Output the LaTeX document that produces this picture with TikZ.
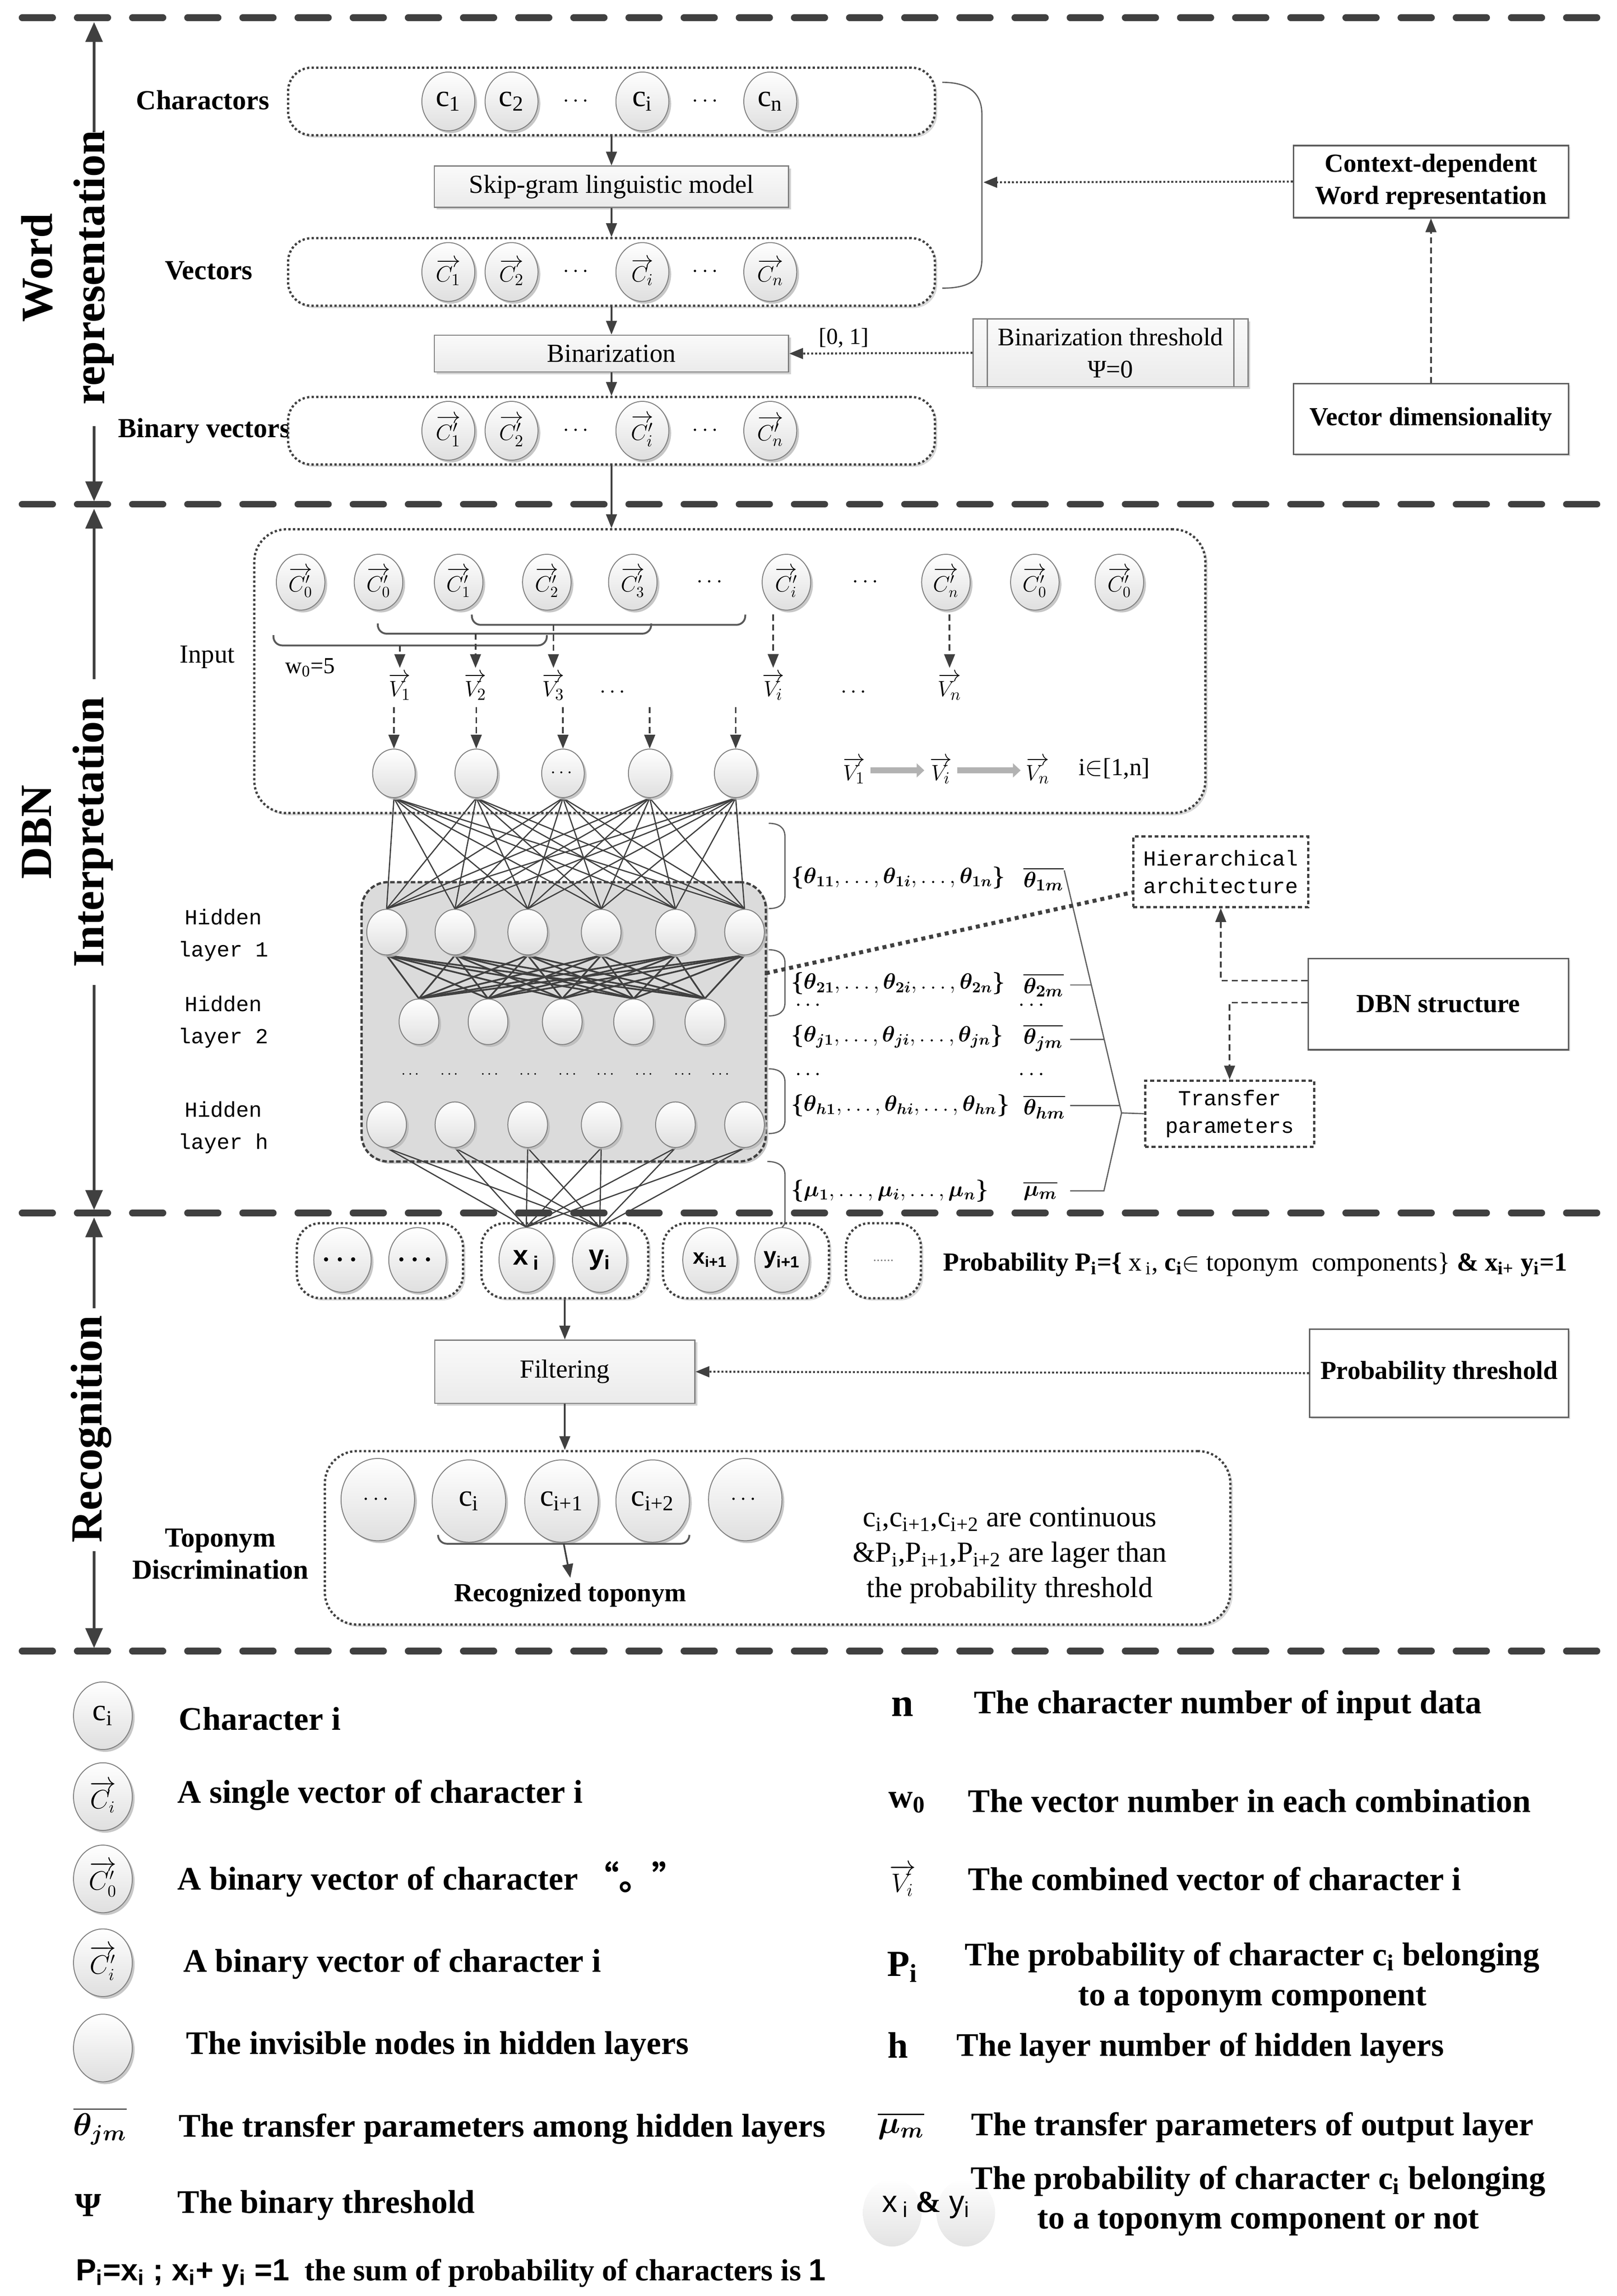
\documentclass[tikz,border=0pt]{standalone}
\usepackage{amsmath}
\usepackage{fontspec}
\usepackage{bm}
\setmainfont{Liberation Serif}
\newfontfamily\monof{Liberation Mono}
\newfontfamily\sansf{Liberation Sans}
\newfontfamily\cjkf{Noto Sans CJK SC}
\usetikzlibrary{arrows.meta,shapes.geometric,shadows,calc}
\pgfdeclarelayer{bgbox}
\pgfdeclarelayer{bglines}
\pgfsetlayers{bgbox,bglines,main}
\newdimen\dpx
\dpx=0.033727cm
\newcommand{\fsz}[2]{\fontsize{#1}{#2}\selectfont}
\newcommand{\tb}[1]{\bm{\theta_{#1}}}
\newcommand{\mb}[1]{\bm{\mu_{#1}}}
\definecolor{dk}{HTML}{404040}
\definecolor{bd}{HTML}{808080}
\tikzset{
  sepline/.style={draw=dk, line width=4.3pt, dash pattern=on 20pt off 16pt, line cap=round},
  sidearr/.style={draw=dk, line width=2pt, -{Triangle[length=13pt,width=11pt]}},
  sidetext/.style={rotate=90, align=center, font=\bfseries\fsz{29}{34}, inner sep=0pt},
  arr/.style={draw=dk, line width=1.1pt, -{Triangle[length=9pt,width=7pt]}},
  dotarr/.style={draw=dk, line width=1.3pt, dash pattern=on 1.3pt off 1.3pt, -{Triangle[length=9pt,width=7pt]}},
  dsharr/.style={draw=dk, line width=1.1pt, dash pattern=on 4pt off 2.5pt, -{Triangle[length=9pt,width=7pt]}},
  rowbox/.style={rectangle, draw=dk, line width=1.5pt, dash pattern=on 1.5pt off 1.5pt, rounded corners=16\dpx, fill=white, inner sep=0pt, drop shadow={shadow xshift=1.5pt, shadow yshift=-1.5pt, fill=gray!30, opacity=1}},
  orb/.style={ellipse, inner sep=0pt, draw=bd, line width=0.6pt, top color=white, bottom color=gray!25, drop shadow={shadow xshift=1.5pt, shadow yshift=-1.5pt, fill=gray!55, opacity=0.8}},
  orbR/.style={orb, minimum width=36\dpx, minimum height=40\dpx},
  orbT/.style={orb, minimum width=33\dpx, minimum height=38\dpx},
  orbI/.style={orb, minimum width=29\dpx, minimum height=33\dpx},
  hid/.style={orb, minimum width=27\dpx, minimum height=31\dpx},
  orbO/.style={orb, minimum width=37\dpx, minimum height=44\dpx},
  orbC/.style={orb, minimum width=50\dpx, minimum height=56\dpx},
  orbL/.style={orb, minimum width=40\dpx, minimum height=46\dpx},
  orbN/.style={ellipse, inner sep=0pt, top color=white, bottom color=gray!22, minimum width=40\dpx, minimum height=46\dpx},
  procbox/.style={rectangle, draw=bd, line width=0.8pt, top color=gray!4, bottom color=gray!16, inner sep=0pt, align=center, font=\fsz{17}{20}, drop shadow={shadow xshift=1.5pt, shadow yshift=-1.5pt, fill=gray!35, opacity=1}},
  plainbox/.style={rectangle, draw=dk!85, line width=1pt, fill=white, inner sep=0pt, align=center, font=\bfseries\fsz{17}{21}, drop shadow={shadow xshift=1pt, shadow yshift=-1pt, fill=gray!30, opacity=1}},
  dashbox/.style={rectangle, draw=dk, line width=1.5pt, dash pattern=on 2.5pt off 1.8pt, fill=white, inner sep=0pt, align=center, font=\monof\fsz{14}{18}},
  lbl/.style={font=\bfseries\fsz{18}{21}},
  brk/.style={draw=gray!70!black, line width=1.2pt, rounded corners=6\dpx},
  brc/.style={draw=gray!75!black, line width=0.8pt},
  netl/.style={draw=dk, line width=0.8pt},
  netm/.style={draw=dk, line width=1.1pt},
  thin/.style={draw=gray!75!black, line width=0.8pt},
  blk/.style={draw=gray!60, line width=4pt, -{Triangle[length=5pt,width=9pt]}},
  par/.style={anchor=west, font=\fsz{14.5}{18}, inner sep=1pt},
  parb/.style={anchor=west, font=\fsz{15}{18}, inner sep=1pt},
  lgs/.style={anchor=west, font=\bfseries\fsz{21.5}{26}},
  dotsl/.style={font=\bfseries\fsz{14}{14}}
}
\begin{document}
\begin{tikzpicture}[x=\dpx,y=-\dpx]
\path[use as bounding box] (0,0) rectangle (1100,1561.7);
% separators
\foreach \yy/\nm in {12/s0,343/s1,825/s2,1123/s3}{
  \coordinate (\nm L) at (15,\yy);
  \coordinate (\nm R) at (1092,\yy);
  \draw[sepline] (\nm L) -- (\nm R);
}
%================ WORD REPRESENTATION
\node[sidetext] (wr) at (46,182) {Word\\representation};
\coordinate (wrU) at (64,90); \coordinate (wrT) at (64,15);
\coordinate (wrD) at (64,290); \coordinate (wrB) at (64,341);
\draw[sidearr] (wrU) -- (wrT);
\draw[sidearr] (wrD) -- (wrB);

\node[lbl] (lch) at (138,68) {Charactors};
\node[lbl] (lve) at (142,184) {Vectors};
\node[lbl] (lbv) at (139,293) {Binary vectors};

\node[rowbox, minimum width=440\dpx, minimum height=46\dpx] (row1) at (416,69) {};
\node[rowbox, minimum width=440\dpx, minimum height=46\dpx] (row2) at (416,185) {};
\node[rowbox, minimum width=440\dpx, minimum height=46\dpx] (row3) at (416,293) {};

\node[orbR, font=\fsz{20}{20}] (a1) at (305,69) {c\textsubscript{1}};
\node[orbR, font=\fsz{20}{20}] (a2) at (348,69) {c\textsubscript{2}};
\node[orbR, font=\fsz{20}{20}] (ai) at (437,69) {c\textsubscript{i}};
\node[orbR, font=\fsz{20}{20}] (an) at (524,69) {c\textsubscript{n}};
\node[dotsl] (ad1) at (393,69) {$\cdots$};
\node[dotsl] (ad2) at (481,69) {$\cdots$};

\node[orbR, font=\fsz{15}{15}] (b1) at (305,185) {$\overrightarrow{C_1}$};
\node[orbR, font=\fsz{15}{15}] (b2) at (348,185) {$\overrightarrow{C_2}$};
\node[orbR, font=\fsz{15}{15}] (bi) at (437,185) {$\overrightarrow{C_i}$};
\node[orbR, font=\fsz{15}{15}] (bn) at (524,185) {$\overrightarrow{C_n}$};
\node[dotsl] (bd1) at (393,185) {$\cdots$};
\node[dotsl] (bd2) at (481,185) {$\cdots$};

\node[orbR, font=\fsz{15}{15}] (c1) at (305,293) {$\overrightarrow{C_1'}$};
\node[orbR, font=\fsz{15}{15}] (c2) at (348,293) {$\overrightarrow{C_2'}$};
\node[orbR, font=\fsz{15}{15}] (ci) at (437,293) {$\overrightarrow{C_i'}$};
\node[orbR, font=\fsz{15}{15}] (cn) at (524,293) {$\overrightarrow{C_n'}$};
\node[dotsl] (cd1) at (393,293) {$\cdots$};
\node[dotsl] (cd2) at (481,293) {$\cdots$};

\node[procbox, minimum width=241\dpx, minimum height=28\dpx] (skip) at (416,127) {Skip-gram linguistic model};
\node[procbox, minimum width=241\dpx, minimum height=25\dpx] (bin) at (416,240.5) {Binarization};
\draw[arr] (row1.south) -- (skip.north);
\draw[arr] (skip.south) -- (row2.north);
\draw[arr] (row2.south) -- (bin.north);
\draw[arr] (bin.south) -- (row3.north);

\node[procbox, minimum width=187\dpx, minimum height=46\dpx, font=\fsz{16.5}{21}] (bthr) at (755.5,240) {Binarization threshold\\Ψ=0};
\draw[bd, line width=0.8pt] ($(bthr.north west)+(10,0)$) -- ($(bthr.south west)+(10,0)$);
\draw[bd, line width=0.8pt] ($(bthr.north east)+(-10,0)$) -- ($(bthr.south east)+(-10,0)$);
\node[font=\fsz{15}{18}] (int01) at (574,230) {[0, 1]};
\draw[dotarr] (bthr.west) -- (bin.east);

\draw[brc] (641,56) .. controls (660,56) and (668,64) .. (668,78) -- (668,176) .. controls (668,190) and (660,196) .. (641,196);
\coordinate (bracetip) at (669,124);
\node[plainbox, minimum width=187\dpx, minimum height=49\dpx] (ctx) at (973.5,123.5) {Context-dependent\\Word representation};
\draw[dotarr] (ctx.west) -- (bracetip);
\node[plainbox, minimum width=187\dpx, minimum height=48\dpx] (vdim) at (973.5,285) {Vector dimensionality};
\draw[dsharr] (vdim.north) -- (ctx.south);

%================ DBN
\node[sidetext] (dbnl) at (46,566) {DBN\\Interpretation};
\coordinate (dbU) at (64,462); \coordinate (dbT) at (64,346);
\coordinate (dbD) at (64,670); \coordinate (dbB) at (64,823);
\draw[sidearr] (dbU) -- (dbT);
\draw[sidearr] (dbD) -- (dbB);

\begin{pgfonlayer}{bgbox}
\node[rowbox, rounded corners=22\dpx, minimum width=647\dpx, minimum height=193\dpx] (inbox) at (496.5,456.5) {};
\node[rectangle, draw=dk, fill=gray!28, line width=1.5pt, dash pattern=on 3pt off 1.5pt, rounded corners=18\dpx, minimum width=275\dpx, minimum height=190\dpx, drop shadow={shadow xshift=1.5pt, shadow yshift=-1.5pt, fill=gray!45, opacity=1}] (hbox) at (383.5,695) {};
\end{pgfonlayer}
\draw[arr] (row3.south) -- (row3.south |- inbox.north);
\node[font=\fsz{17}{20}] (inputl) at (141,447) {Input};

\node[orbT, font=\fsz{14}{14}] (t1) at (204.5,396) {$\overrightarrow{C_0'}$};
\node[orbT, font=\fsz{14}{14}] (t2) at (257.5,396) {$\overrightarrow{C_0'}$};
\node[orbT, font=\fsz{14}{14}] (t3) at (312,396) {$\overrightarrow{C_1'}$};
\node[orbT, font=\fsz{14}{14}] (t4) at (372,396) {$\overrightarrow{C_2'}$};
\node[orbT, font=\fsz{14}{14}] (t5) at (430.5,396) {$\overrightarrow{C_3'}$};
\node[dotsl] (td1) at (484,396) {$\cdots$};
\node[orbT, font=\fsz{14}{14}] (t6) at (535,396) {$\overrightarrow{C_i'}$};
\node[dotsl] (td2) at (590,396) {$\cdots$};
\node[orbT, font=\fsz{14}{14}] (t7) at (643.5,396) {$\overrightarrow{C_n'}$};
\node[orbT, font=\fsz{14}{14}] (t8) at (704,396) {$\overrightarrow{C_0'}$};
\node[orbT, font=\fsz{14}{14}] (t9) at (761.5,396) {$\overrightarrow{C_0'}$};

\draw[brk] (186,432) -- (186,439) -- (372,439) -- (372,432);
\draw[brk] (257,424) -- (257,431) -- (443,431) -- (443,424);
\draw[brk] (321,418) -- (321,425) -- (507,425) -- (507,418);
\node[font=\fsz{15}{15}] (w0l) at (211,454) {w\textsubscript{0}=5};

\node[font=\fsz{15}{15}] (V1) at (272,467) {$\overrightarrow{V_1}$};
\node[font=\fsz{15}{15}] (V2) at (323.5,467) {$\overrightarrow{V_2}$};
\node[font=\fsz{15}{15}] (V3) at (376.5,467) {$\overrightarrow{V_3}$};
\node[dotsl] (vd1) at (418,471) {$\cdots$};
\node[font=\fsz{15}{15}] (Vi) at (526,467) {$\overrightarrow{V_i}$};
\node[dotsl] (vd2) at (582,471) {$\cdots$};
\node[font=\fsz{15}{15}] (Vn) at (646,467) {$\overrightarrow{V_n}$};
\coordinate (v1s) at (272,439); \coordinate (v2s) at (323.5,431);
\coordinate (v3s) at (376.5,425); \coordinate (vis) at (526,418);
\coordinate (vns) at (646,418);
\draw[dsharr] (v1s) -- (V1.north);
\draw[dsharr] (v2s) -- (V2.north);
\draw[dsharr] (v3s) -- (V3.north);
\draw[dsharr] (vis) -- (Vi.north);
\draw[dsharr] (vns) -- (Vn.north);

\node[orbI] (inp1) at (268,526) {};
\node[orbI] (inp2) at (324,526) {};
\node[orbI, font=\bfseries\fsz{12}{12}] (inp3) at (383,526) {$\cdots$};
\node[orbI] (inp4) at (442,526) {};
\node[orbI] (inp5) at (500.5,526) {};
\foreach \xx/\k in {268/1,324/2,383/3,442/4,500.5/5}{
  \coordinate (q\k) at (\xx,481);
  \draw[dsharr] (q\k) -- (inp\k.north);
}

\node[font=\fsz{15}{15}] (fv1) at (581,524) {$\overrightarrow{V_1}$};
\node[font=\fsz{15}{15}] (fvi) at (640,524) {$\overrightarrow{V_i}$};
\node[font=\fsz{15}{15}] (fvn) at (706,524) {$\overrightarrow{V_n}$};
\node[font=\fsz{16}{16}, anchor=west] (frange) at (730,523) {i$\in$[1,n]};
\draw[blk] (fv1.east) -- (fvi.west);
\draw[blk] (fvi.east) -- (fvn.west);

% hidden layers
\foreach \xx/\k in {263/1,309.5/2,359/3,409/4,459.5/5,506.5/6}{
  \node[hid] (hA\k) at (\xx,634) {};
  \node[hid] (hH\k) at (\xx,765) {};
}
\foreach \xx/\k in {285/1,332/2,382.5/3,431/4,479.5/5}{
  \node[hid] (hB\k) at (\xx,695) {};
}
\foreach \xx/\k in {280/1,306.6/2,334/3,360.5/4,387/5,412.7/6,439/7,465.5/8,491/9}{
  \node[font=\fsz{10}{10}] (hd\k) at (\xx,731) {$\cdots$};
}
\node[font=\monof\fsz{14}{21}, align=center] (hl1) at (152,636) {Hidden\\layer 1};
\node[font=\monof\fsz{14}{21}, align=center] (hl2) at (152,695) {Hidden\\layer 2};
\node[font=\monof\fsz{14}{21}, align=center] (hl3) at (152,767) {Hidden\\layer h};

% output nodes
\begin{pgfonlayer}{bgbox}
\node[rowbox, minimum width=113\dpx, minimum height=51\dpx] (g1) at (258.5,857.5) {};
\node[rowbox, minimum width=113.5\dpx, minimum height=51\dpx] (g2) at (384.25,857.5) {};
\node[rowbox, minimum width=113\dpx, minimum height=51\dpx] (g3) at (507.5,857.5) {};
\node[rowbox, minimum width=51\dpx, minimum height=51\dpx] (g4) at (601,857.5) {};
\end{pgfonlayer}
\node[orbO, font=\bfseries\fsz{16}{16}] (o1) at (233,857) {$\bm\cdots$};
\node[orbO, font=\bfseries\fsz{16}{16}] (o2) at (284,857) {$\bm\cdots$};
\node[orbO, font=\sansf\bfseries\fsz{18}{18}] (xi) at (358,857) {x\,\textsubscript{i}};
\node[orbO, font=\sansf\bfseries\fsz{18}{18}] (yi) at (408,857) {y\textsubscript{i}};
\node[orbO, font=\sansf\bfseries\fsz{14}{14}] (xn) at (483,857) {x\textsubscript{i+1}};
\node[orbO, font=\sansf\bfseries\fsz{15}{15}] (yn) at (532,857) {y\textsubscript{i+1}};
\node[font=\fsz{9}{9}, text=gray] (g4d) at (g4) {......};

\begin{pgfonlayer}{bglines}
\foreach \i in {1,...,5}{
  \foreach \j in {1,...,6}{
    \draw[netl] (inp\i.south) -- (hA\j.north);
  }
}
\foreach \i in {1,...,6}{
  \foreach \j in {1,...,5}{
    \draw[netm] (hA\i.south) -- (hB\j.north);
  }
}
\foreach \i in {1,...,6}{
  \draw[netl] (hH\i.south) -- (xi.north);
  \draw[netl] (hH\i.south) -- (yi.north);
}
\end{pgfonlayer}

% braces right of hidden box
\draw[brc] (523,560) .. controls (530,560) and (534,563) .. (534,569) -- (534,609) .. controls (534,615) and (530,618) .. (523,618);
\draw[brc] (523,646) .. controls (530,646) and (534,649) .. (534,655) -- (534,682) .. controls (534,688) and (530,691) .. (523,691);
\draw[brc] (523,727) .. controls (530,727) and (534,730) .. (534,736) -- (534,762) .. controls (534,768) and (530,771) .. (523,771);
\draw[brc] (522,790) .. controls (529,790) and (534,793) .. (534,799) -- (534,830) .. controls (534,833) and (533,834) .. (yn.north);

% parameters
\node[par] (p1) at (537,597) {$\bm{\{}\tb{11},\ldots,\tb{1i},\ldots,\tb{1n}\bm{\}}$};
\node[par] (p2) at (537,669) {$\bm{\{}\tb{21},\ldots,\tb{2i},\ldots,\tb{2n}\bm{\}}$};
\node[par] (pj) at (537,705) {$\bm{\{}\tb{j1},\ldots,\tb{ji},\ldots,\tb{jn}\bm{\}}$};
\node[par] (ph) at (537,752) {$\bm{\{}\tb{h1},\ldots,\tb{hi},\ldots,\tb{hn}\bm{\}}$};
\node[par] (pm) at (537,810) {$\bm{\{}\mb{1},\ldots,\mb{i},\ldots,\mb{n}\bm{\}}$};
\node[parb] (q1b) at (695,598) {$\overline{\tb{1m}}$};
\node[parb] (q2b) at (695,670) {$\overline{\tb{2m}}$};
\node[parb] (qjb) at (695,706) {$\overline{\tb{jm}}$};
\node[parb] (qhb) at (695,753) {$\overline{\tb{hm}}$};
\node[parb] (qmb) at (695,810) {$\overline{\mb{m}}$};
\node[dotsl] (pd1) at (551,684) {$\cdots$};
\node[dotsl] (pd2) at (551,731) {$\cdots$};
\node[dotsl] (pd3) at (703,684) {$\cdots$};
\node[dotsl] (pd4) at (703,731) {$\cdots$};

\node[dashbox, minimum width=119\dpx, minimum height=48\dpx] (hier) at (830.5,593) {Hierarchical\\architecture};
\node[dashbox, minimum width=115\dpx, minimum height=45\dpx] (tp) at (836.5,757.5) {Transfer\\parameters};
\node[plainbox, minimum width=177\dpx, minimum height=62\dpx] (dbns) at (978.5,683) {DBN structure};

\coordinate (cA) at (724,592); \coordinate (cB) at (763,757);
\coordinate (cC) at (751,810); \coordinate (cD) at (728,810);
\draw[thin] (cA) -- (cB) -- (cC) -- (cD);
\draw[thin] (cB) -- (tp.west);
\coordinate (k2a) at (728,670); \coordinate (k2b) at (742.4,670);
\coordinate (kja) at (728,707); \coordinate (kjb) at (751.2,707);
\coordinate (kha) at (728,752); \coordinate (khb) at (761.8,752);
\draw[thin] (k2a) -- (k2b);
\draw[thin] (kja) -- (kjb);
\draw[thin] (kha) -- (khb);

\draw[dsharr] ($(dbns.west)+(0,-16)$) -| (hier.south);
\draw[dsharr] ($(dbns.west)+(0,-1)$) -| (tp.north);
\coordinate (hdot) at (521,662);
\draw[draw=dk, line width=2.6pt, dash pattern=on 2.6pt off 2.6pt] (hdot) -- ($(hier.west)+(0,14)$);

%================ RECOGNITION
\node[sidetext] (recl) at (62,972) {Recognition};
\coordinate (rcU) at (64,890); \coordinate (rcT) at (64,828);
\coordinate (rcD) at (64,1055); \coordinate (rcB) at (64,1121);
\draw[sidearr] (rcU) -- (rcT);
\draw[sidearr] (rcD) -- (rcB);

\node[anchor=west, font=\fsz{17}{20}] (probl) at (638,860) {\textbf{Probability P\textsubscript{i}=\{} x\,\textsubscript{i}, \textbf{c\textsubscript{i}}$\in$ toponym\ \ components\} \textbf{\& x\textsubscript{i+} y\textsubscript{i}=1}};

\node[procbox, minimum width=177\dpx, minimum height=43\dpx] (filt) at (384.25,933) {Filtering};
\draw[arr] (g2.south) -- (filt.north);
\node[plainbox, minimum width=176\dpx, minimum height=60\dpx] (pthr) at (979,934) {Probability threshold};
\draw[dotarr] (pthr.west) -- (filt.east);

\begin{pgfonlayer}{bgbox}
\node[rowbox, rounded corners=22\dpx, minimum width=616\dpx, minimum height=118\dpx] (topb) at (529,1046) {};
\end{pgfonlayer}
\draw[arr] (filt.south) -- (filt.south |- topb.north);

\node[orbC, font=\fsz{14}{14}] (k1) at (257,1020) {$\cdots$};
\node[orbC, font=\fsz{20}{20}] (k2) at (319,1021) {c\textsubscript{i}};
\node[orbC, font=\fsz{20}{20}] (k3) at (382,1021) {c\textsubscript{i+1}};
\node[orbC, font=\fsz{20}{20}] (k4) at (444,1021) {c\textsubscript{i+2}};
\node[orbC, font=\fsz{14}{14}] (k5) at (507,1020) {$\cdots$};
\draw[brk] (298,1044) -- (298,1050) -- (469,1050) -- (469,1044);
\coordinate (rbk) at (383.5,1050);
\node[font=\bfseries\fsz{17}{20}] (rect) at (388,1085) {Recognized toponym};
\draw[arr] (rbk) -- (rect.north);
\node[align=center, font=\fsz{19}{23}] (cond) at (687,1058) {c\textsubscript{i},c\textsubscript{i+1},c\textsubscript{i+2} are continuous\\\&P\textsubscript{i},P\textsubscript{i+1},P\textsubscript{i+2} are lager than\\the probability threshold};
\node[align=center, font=\bfseries\fsz{18}{21}] (topl) at (150,1057) {Toponym\\Discrimination};

%================ LEGEND
\node[orbL, font=\fsz{20}{20}] (lg1) at (70,1167) {c\textsubscript{i}};
\node[lgs] (lt1) at (118,1169) {Character i};
\node[orbL, font=\fsz{16}{16}] (lg2) at (70,1222) {$\overrightarrow{C_i}$};
\node[lgs] (lt2) at (117,1221) {A single vector of character i};
\node[orbL, font=\fsz{16}{16}] (lg3) at (70,1278) {$\overrightarrow{C_0'}$};
\node[lgs] (lt3) at (117,1278) {A binary vector of character {\cjkf “。”}};
\node[orbL, font=\fsz{16}{16}] (lg4) at (70,1335) {$\overrightarrow{C_i'}$};
\node[lgs] (lt4) at (121,1336) {A binary vector of character i};
\node[orbL] (lg5) at (70,1393) {};
\node[lgs] (lt5) at (123,1392) {The invisible nodes in hidden layers};
\node[font=\fsz{20}{20}] (ls6) at (68,1446) {$\overline{\tb{jm}}$};
\node[lgs] (lt6) at (118,1448) {The transfer parameters among hidden layers};
\node[font=\bfseries\fsz{22}{22}] (ls7) at (60,1500) {Ψ};
\node[lgs] (lt7) at (117,1500) {The binary threshold};
\node[anchor=west, font=\bfseries\fsz{20}{24}] (lt8) at (48,1546) {{\sansf P\textsubscript{i}=x\textsubscript{i} ; x\textsubscript{i}+ y\textsubscript{i} =1}\ \ the sum of probability of characters is {\sansf 1}};

\node[font=\bfseries\fsz{26}{26}] (rs1) at (614,1161) {n};
\node[lgs] (rt1) at (659,1160) {The character number of input data};
\node[font=\bfseries\fsz{22}{22}] (rs2) at (617,1226) {w\textsubscript{0}};
\node[lgs] (rt2) at (655,1225) {The vector number in each combination};
\node[font=\fsz{18}{18}] (rs3) at (614,1279) {$\overrightarrow{V_i}$};
\node[lgs] (rt3) at (655,1278) {The combined vector of character i};
\node[font=\bfseries\fsz{24}{24}] (rs4) at (614,1338) {P\textsubscript{i}};
\node[align=center, font=\bfseries\fsz{21.5}{26}] (rt4) at (852,1345) {The probability of character c\textsubscript{i} belonging\\to a toponym component};
\node[font=\bfseries\fsz{24}{24}] (rs5) at (611,1391) {h};
\node[lgs] (rt5) at (647,1393) {The layer number of hidden layers};
\node[font=\fsz{20}{20}] (rs6) at (613,1446) {$\overline{\mb{m}}$};
\node[lgs] (rt6) at (657,1447) {The transfer parameters of output layer};
\node[orbN] (lx) at (607,1505) {};
\node[orbN] (ly) at (657,1505) {};
\node[font=\fsz{20}{20}] (rs7) at (630,1500) {{\sansf x\,\textsubscript{i}} \textbf{\&} {\sansf y\textsubscript{i}}};
\node[align=center, font=\bfseries\fsz{21.5}{26}] (rt7) at (856,1497) {The probability of character c\textsubscript{i} belonging\\to a toponym component or not};
\end{tikzpicture}
\end{document}
